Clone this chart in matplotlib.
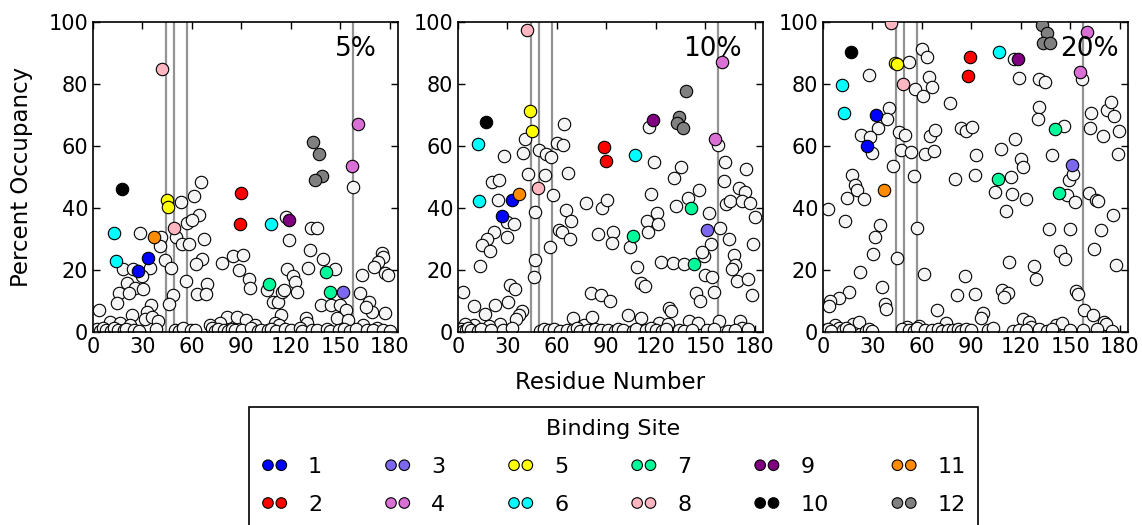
import matplotlib
matplotlib.use('Agg')
from matplotlib import pyplot as plt

# residue / occupancy of the plain (white) points, one pair of lists per panel
res_5 = [65.3, 61, 53.1, 64, 56.8, 59.8, 28.5, 41, 40.6, 50.3, 67.3, 54, 58.4, 43.7, 34.6, 18.4, 24.5, 29.5,
         47.3, 66.3, 62.2, 56.4, 20.4, 25.3, 30.5, 15.6, 21.8, 69.1, 63.2, 68.3, 48.3, 46.1, 14.8, 35.4, 3.7,
         32.5, 31.5, 35.6, 39.2, 23.5, 10.3, 16.4, 22.4, 78, 85, 91.1, 88.5, 94.6, 95.4, 81, 87.1, 93.1, 98.2,
         77, 70.9, 105.3, 108.9, 112, 114.4, 116, 113.8, 110.3, 113, 117.4, 119, 117, 132.1, 135.6, 131.9,
         139.8, 130.7, 146.7, 121.4, 122.4, 123.8, 138, 144.6, 149.7, 153.7, 147.7, 154.8, 129.1, 129.9,
         157.8, 161.8, 163.2, 167.5, 169.5, 165.5, 175, 175.6, 173.1, 170.3, 177, 179, 177, 163.8, 172,
         1, 2.5, 4, 6, 8, 11, 12.5, 15, 18.6, 20, 25, 27.9, 38, 50, 52, 54.5, 59.7, 62, 72, 74, 76, 79.2, 82,
         84.4, 86, 90.5, 95.6, 99.8, 102, 105.9, 108, 111, 116.2, 120, 125.5, 127, 132.6, 136, 142, 144, 149,
         152, 156, 159.4, 166, 169.6, 175.8, 180]
occ_5 = [48.5, 44, 41.8, 37.7, 35.3, 36.1, 31.8, 30.5, 27.9, 30.8, 29.9, 28.3, 28.4, 23.1, 20.8, 20.3, 20.2, 18.2,
         20.8, 23.6, 21.8, 16.6, 15.7, 14.1, 14, 12.7, 12.7, 15.6, 12.1, 12.1, 11.8, 9.1, 9.2, 8.8, 7.1,
         6.3, 4.1, 4.7, 3.7, 5.5, 3.3, 3, 2.3, 22.4, 24.5, 24.8, 20, 17, 14.1, 4.9, 4.7, 3.9, 2.3,
         2.8, 2.3, 13.6, 9.8, 9.8, 13, 13.5, 5.5, 3, 2.3, 20.2, 29.7, 37, 33.6, 33.4, 26.3,
         23.4, 20.5, 20.2, 18.2, 16.2, 12.8, 8.6, 8.7, 8.7, 7.1, 4.4, 3.9, 4.4, 3,
         46.9, 12.5, 18.4, 9.8, 6.6, 8.2, 25.4, 24.3, 22.7, 21, 19, 18.4, 6, 2.3, 1.2,
         0.5, 1, 0.3, 1.2, 0.6, 0.4, 1.4, 0.8, 0.5, 1.1, 0.7, 0.4, 0.9, 0.6, 0.3, 1.2, 0.8, 0.5, 1.3, 0.4, 0.9,
         0.6, 0.3, 1, 0.5, 0.8, 1.2, 0.4, 0.7, 0.5, 1.1, 0.3, 0.9, 0.6, 1.2, 0.4, 0.8, 0.5, 1, 0.3, 0.7,
         0.9, 0.4, 1.1, 0.6, 0.5, 0.8, 0.3]

res_10 = [64.5, 40.7, 59.9, 63.5, 28, 39.7, 49.4, 53.4, 56.7, 42.7, 52.8, 66.6, 20.5, 25, 24.1, 57.5, 47, 65.6,
          68.8, 61.5, 63.1, 67.8, 29.6, 33.8, 29.8, 22.1, 17.7, 14.6, 19.7, 55.5, 46.8, 13.6, 46, 2.9, 31.6,
          34.6, 10, 16.1, 22.7, 30.6, 38.7, 37.3, 35.2, 25.6, 18.7, 10, 4, 69.6, 76.7, 81.3, 77.7, 87.4, 90.6,
          84.7, 94.2, 93.4, 80.7, 86.8, 92.4, 104.3,
          119.1, 116.1, 135.3, 131.2, 117.1, 120.5, 114.6, 121.5, 115.5, 132.2, 139.3, 146, 152, 159.1, 164.5,
          153.4, 149.4, 148, 108.6, 123.1, 130.2, 137.3, 111, 113.4, 150, 154, 155.5, 144.3, 147, 128.2,
          129.2, 103, 111, 121.7, 127.2, 139.9, 145.4, 158.1, 162.1, 161.1, 162.5, 165.2, 170.2, 174.1, 172.2,
          177.3, 174.9, 179.9, 167.2, 168, 166.2, 169, 176.1, 178.3, 179.1, 157.5, 171, 172,
          1, 2, 3, 5, 6, 8, 12, 14, 20, 27, 33, 50, 52, 55, 58, 62, 66, 70, 72, 74, 79, 83, 87, 91, 95, 97, 100,
          106, 108, 114, 117, 120, 124, 126, 134, 137, 142, 151, 155, 164, 168, 176]
occ_10 = [67.1, 62.1, 60.9, 60.3, 56.8, 57.9, 58.7, 57.4, 56.6, 51, 50.7, 51.2, 48.5, 49, 42.6, 44.2, 38.6, 39.3,
          35.8, 32.9, 32.4, 30, 35.6, 34.8, 30.6, 32.2, 29.9, 28.1, 26.2, 27.5, 23.2, 21.3, 17.6, 12.8, 15.2,
          14, 8.5, 5.8, 8.7, 9.8, 6.9, 5.5, 4.2, 2.6, 1.9, 2.3, 2.6, 4.4, 2.3, 4.7, 41.5, 39.9, 42.6,
          31.5, 32.2, 28.6, 12.5, 11.9, 10.1, 27.3,
          54.7, 66.2, 53.1, 49.8, 44.4, 38.3, 35.9, 34.7, 32.1, 40.8, 43.1, 45.8, 38.3, 33.4, 30.1,
          28.3, 24.5, 25.7, 21.1, 22.6, 22.1, 21.8, 15.7, 15, 18.3, 17.6, 13, 12.5, 10, 7.6,
          6.9, 5.5, 4.4, 2.8, 2.6, 3.7, 2.8, 3.5, 54.7, 48.7, 41.3, 42.1, 46.4, 45.3, 42.2,
          41.7, 52.5, 37.2, 24.8, 21.6, 20.2, 16.5, 17.1, 11.9, 28.4, 60.3, 3.7, 1.2,
          0.5, 1.1, 0.3, 0.8, 1.3, 0.6, 0.4, 1, 0.7, 0.5, 1.2, 0.3, 0.9, 0.6, 1.1, 0.4, 0.8, 0.5, 1.2, 0.3, 0.7, 1,
          0.5, 0.8, 0.4, 1.1, 0.6, 0.3, 0.9, 0.5, 1.2, 0.7, 0.4, 1, 0.6, 0.3, 0.8, 0.5, 1.1, 0.4, 0.7, 0.9]

res_20 = [59.9, 63.1, 52.4, 27.6, 64.1, 66.2, 56.1, 60.5, 77.3, 40.3, 39.1, 33.4, 23.3, 28.4, 29.6, 46, 49.6,
          47.2, 53.4, 65, 67.8, 62.1, 67.4, 42.5, 55.3, 17.7, 19.7, 20.7, 14.6, 24.8, 80, 83.5, 86.8, 90.2,
          92.8, 92.4, 2.9, 13.6, 34.4, 31.6, 30.6, 57.1, 45, 22.3, 35.7, 37.5, 38.3, 61.1, 15.5, 9.6, 4.3, 3.5,
          69.2, 81.3, 86.4, 92.4, 18.1, 21.7, 7, 10, 25.8, 51, 58.5, 74.6,
          116.1, 119.1, 131.2, 134.8, 130.8, 130.2, 146, 162.7, 172.2, 174.7, 176.3, 161.9, 170, 179.7, 178.9,
          116.7, 108, 120.1, 121.1, 138.9, 114, 104.5, 114.6, 123.1, 111, 149, 151.4, 147.8, 153, 161.1, 165.6,
          166.8, 175.7, 168.8, 164.6, 136.9, 150, 143.7, 147, 113, 128.2, 129.2, 177.7, 108.4, 112.2, 110,
          153.4, 154.9, 158.1, 163.5, 170.6, 171.6, 96.9, 95.9, 121.5, 125.2, 126.2, 141.3, 145, 157.1,
          1, 3, 5, 12, 14, 16, 28, 30, 48, 52, 55, 57, 62, 66, 70, 72, 76, 79, 82, 84, 87, 90, 100, 103, 115, 119,
          123, 131, 136, 139, 150, 158, 166, 175]
occ_20 = [91.2, 88.6, 87.2, 82.9, 82.4, 78.9, 78.3, 76.1, 73.8, 72.1, 68.7, 65.7, 63.5, 63, 57.9, 64.6, 63.5,
          58.7, 58.2, 63.2, 65.2, 57.3, 58.5, 53.7, 50.4, 50.8, 47.3, 45.8, 43.1, 43, 49.4, 65.9, 65, 66.2,
          57.1, 50.8, 39.7, 35.9, 34.6, 30.5, 25.2, 33.4, 24, 19.2, 14.6, 8.9, 7.4, 18.6, 12.9, 11.1, 10, 8.4,
          7.1, 11.9, 18.1, 12.3, 2.6, 3.2, 2.3, 1.2, 0.4, 1.7, 1.9, 2.8,
          88.1, 81.8, 81.6, 80.5, 72.7, 68.7, 66.6, 70.5, 71.6, 74.1, 69.8, 65.7, 63.2, 64.9, 57.5,
          62.2, 59.1, 55.9, 53.3, 57.2, 50.1, 45.1, 44.4, 42.9, 39, 49, 51, 44.3, 41.9, 45, 42.6,
          42.4, 37.8, 33, 26.7, 33.1, 33.3, 26.1, 23.4, 22.7, 21.4, 17.2, 21.6, 13.5, 12.5, 11.2,
          13.3, 12.1, 7.1, 5.5, 3.3, 2.6, 6, 4.4, 4.1, 3.3, 1.7, 2.3, 2.8, 81.5,
          0.6, 1.1, 0.4, 0.8, 1.2, 0.5, 0.9, 0.3, 1, 0.6, 0.4, 1.2, 0.7, 0.5, 1.1, 0.3, 0.8, 0.6, 1, 0.4, 0.9, 0.5,
          0.7, 1.2, 0.4, 0.8, 0.6, 1.1, 0.3, 0.9, 0.5, 0.7, 1, 0.4]

# binding sites
site_labels = ['1', '2', '3', '4', '5', '6', '7', '8', '9', '10', '11', '12']
site_colors = ['blue', 'red', 'mediumslateblue', 'orchid', 'yellow', 'cyan',
               'mediumspringgreen', 'lightpink', 'purple', 'black', 'darkorange', 'grey']

site_res_5 = [[27.5, 33.5], [89, 90], [151.7], [160.6, 156.8], [44.6, 45.2], [13, 14, 108],
              [107, 141.6, 143.8], [42, 49], [119], [17.6], [37], [133.7, 136.8, 138.8, 134.7]]
site_occ_5 = [[19.7, 23.8], [35, 45], [12.8], [67, 53.4], [42.6, 40.4], [32, 23, 35],
              [15.5, 19.2, 12.8], [85, 33.6], [36.1], [46], [30.5], [61.4, 57.3, 50.4, 49]]

site_res_10 = [[32.6, 26.8], [88.4, 89.6], [151], [160.1, 156.1], [43.5, 44.7], [12, 12.8, 107.4],
               [141.3, 106.4, 143.3], [41.7, 48.6], [118.5], [17.1], [36.7], [138.3, 134.2, 132.6, 136.3]]
site_occ_10 = [[42.6, 37.5], [59.7, 55.3], [33], [87, 62.2], [71.3, 64.8], [60.6, 42.4, 57.1],
               [40, 31.1, 21.8], [97.4, 46.6], [68.4], [67.9], [44.5], [77.9, 69.5, 67.3, 65.9]]

site_res_20 = [[32.4, 26.6], [89.2, 88.2], [151], [159.9, 155.9], [43.7, 44.7], [11.4, 12.6, 107],
               [140.9, 106.2, 142.9], [41.3, 48.6], [118.1], [16.7], [36.7], [132.8, 135.9, 133.6, 137.7]]
site_occ_20 = [[70.1, 60], [88.8, 82.6], [53.9], [96.9, 84], [86.7, 86.5], [79.6, 70.8, 90.4],
               [65.4, 49.5, 44.7], [99.6, 80], [88.1], [90.2], [45.8], [99, 96.6, 93.1, 93.3]]

marked_residues = [44.5, 49, 57, 157.5]
panel_titles = ['5%', '10%', '20%']

fig = plt.figure(figsize=(11.42, 5.25), dpi=100)
lefts = [93 / 1142, 458 / 1142, 823 / 1142]
panels = [(res_5, occ_5, site_res_5, site_occ_5),
          (res_10, occ_10, site_res_10, site_occ_10),
          (res_20, occ_20, site_res_20, site_occ_20)]
title_x = [0.93, 0.93, 0.97]

axes = []
for i, (res, occ, sres, socc) in enumerate(panels):
    ax = fig.add_axes([lefts[i], 193 / 525, 305 / 1142, 310 / 525])
    axes.append(ax)
    for r in marked_residues:
        ax.axvline(r, color='grey', lw=1.6, alpha=0.85, zorder=1)
    ax.scatter(res, occ, s=80, c='whitesmoke', edgecolors='black', linewidths=0.8, zorder=2)
    for k in range(len(site_labels)):
        ax.scatter(sres[k], socc[k], s=80, c=site_colors[k], edgecolors='black', linewidths=0.8,
                   zorder=3, label=site_labels[k])
    ax.set_xlim(0, 185)
    ax.set_ylim(0, 100)
    ax.set_xticks(range(0, 181, 30))
    ax.set_yticks(range(0, 101, 20))
    ax.tick_params(direction='in', top=True, right=True, length=5, width=1, labelsize=15)
    for sp in ax.spines.values():
        sp.set_linewidth(1.2)
    ax.text(title_x[i], 0.89, panel_titles[i], transform=ax.transAxes, ha='right', va='baseline', fontsize=19)

axes[0].set_ylabel('Percent Occupancy', fontsize=16.5, labelpad=11)
axes[1].set_xlabel('Residue Number', fontsize=16.5, labelpad=10)

handles, labels = axes[0].get_legend_handles_labels()
leg = fig.legend(handles, labels,
                 loc='upper center', bbox_to_anchor=(613.5 / 1142, 1 - 407 / 525),
                 borderaxespad=0, borderpad=0.55, ncol=6, scatterpoints=2, scatteryoffsets=[0.5],
                 markerscale=0.85, fontsize=16, title='Binding Site', title_fontsize=16,
                 handlelength=1.2, handletextpad=0.9, columnspacing=2.8, labelspacing=0.8,
                 fancybox=False, edgecolor='black', framealpha=1)
leg.get_frame().set_linewidth(1.2)

fig.savefig('out.png', dpi=100)
